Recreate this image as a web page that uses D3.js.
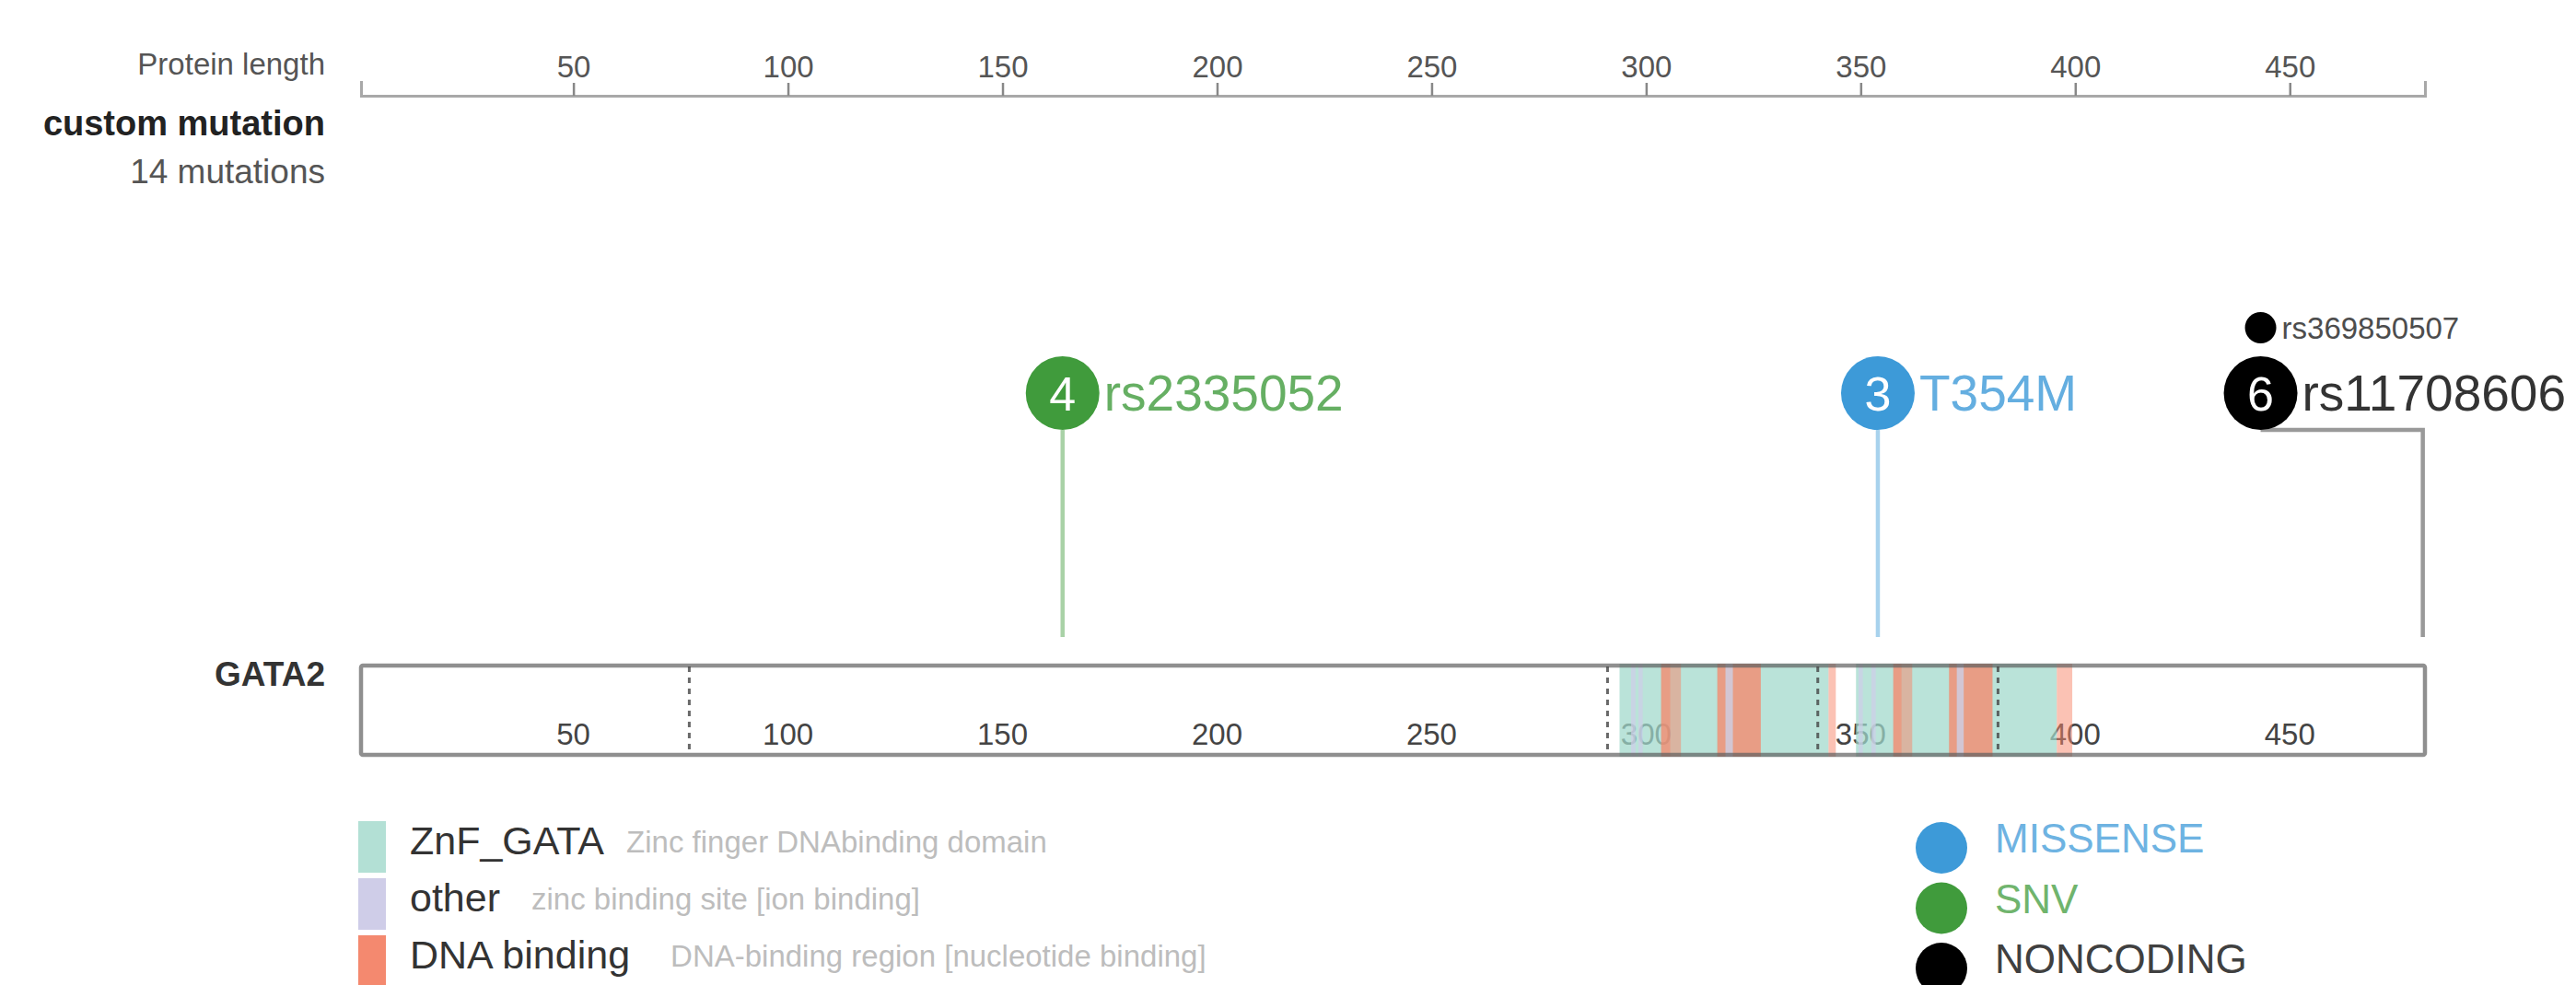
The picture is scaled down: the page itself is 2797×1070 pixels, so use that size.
<!DOCTYPE html>
<html>
<head>
<meta charset="utf-8">
<script src="https://cdn.jsdelivr.net/npm/d3@7"></script>
<style>
  html, body { margin: 0; padding: 0; background: #fff; }
  svg { display: block; font-family: "Liberation Sans", Arial, Helvetica, sans-serif; }
</style>
</head>
<body>
<svg id="chart" width="2797" height="1070"></svg>
<script>
// ---- GATA2 lollipop data ----
const geneName = "GATA2";
const trackName = "custom mutation";
const proteinLength = 481;
const axisTicks = [50, 100, 150, 200, 250, 300, 350, 400, 450];

const mutationLabels = ["rs2335052", "T354M", "rs11708606", "rs369850507"];
const mutationTypes = ["SNV", "MISSENSE", "NONCODING", "NONCODING"];
const mutationPositions = [164, 354, 481, 481];
const mutationCounts = [4, 3, 6, 1];

const mutationClasses = ["MISSENSE", "SNV", "NONCODING"];
const mutationClassColors = ["#3d9ad8", "#409b3c", "#000000"];

const domainNames = ["ZnF_GATA", "other", "DNA binding"];
const domainDescriptions = [
  "Zinc finger DNAbinding domain",
  "zinc binding site [ion binding]",
  "DNA-binding region [nucleotide binding]"
];
const domainColors = ["#b3e0d5", "#cfcde8", "#f4896f"];

// feature intervals on the protein, in residues
const znfGataRegions = [[293.8, 342.5], [348.9, 395.7]];
const zincBindingSites = [[296.5, 297.5], [298.2, 299.2], [318.5, 320.2], [349.5, 350.5], [352.5, 353.5], [372.4, 374]];
const dnaBindingRegions = [
  [303.5, 308.1], [303.5, 305.6],
  [316.6, 326.7], [316.6, 318.5], [320.2, 326.7],
  [342.5, 344.2],
  [357.6, 362], [357.6, 359.5],
  [370.6, 380.7], [370.6, 372.4], [374, 380.7],
  [395.7, 399.3]
];
const exonBoundaries = [77, 291, 340, 382];

// ---- layout ----
const W = 2797, H = 1070;
const labelRight = 353;
const axisY = 104;
const headY = 427;
const headR = 40;
const smallR = 17;
const stemBottom = 692;
const barTop = 721, barBottom = 822;
const rightLimit = 2787;

const svg = d3.select("#chart");
svg.append("rect").attr("width", W).attr("height", H).attr("fill", "#fff");

const x = d3.scaleLinear().domain([0.5, proteinLength + 0.5]).range([392, 2633]);
const typeColor = d3.scaleOrdinal().domain(mutationClasses).range(mutationClassColors);
const lighten = (c, t) => d3.interpolateRgb(c, "#ffffff")(t);

// ---- left-hand titles ----
svg.append("text").attr("x", labelRight).attr("y", 81).attr("text-anchor", "end")
  .attr("font-size", 33).attr("fill", "#555").text("Protein length");
svg.append("text").attr("x", labelRight).attr("y", 147).attr("text-anchor", "end")
  .attr("font-size", 38).attr("font-weight", "bold").attr("fill", "#222").text(trackName);
svg.append("text").attr("x", labelRight).attr("y", 199).attr("text-anchor", "end")
  .attr("font-size", 37).attr("fill", "#555")
  .text(d3.sum(mutationCounts) + " mutations");
svg.append("text").attr("x", labelRight).attr("y", 745).attr("text-anchor", "end")
  .attr("font-size", 37).attr("font-weight", "bold").attr("fill", "#333").text(geneName);

// ---- top protein-length axis ----
const axisG = svg.append("g").attr("transform", `translate(0,${axisY})`)
  .call(d3.axisTop(x).tickValues(axisTicks).tickSizeInner(14).tickSizeOuter(16).tickPadding(6));
axisG.select(".domain").attr("stroke", "#a8a8a8").attr("stroke-width", 3);
axisG.selectAll(".tick line").attr("stroke", "#888").attr("stroke-width", 2.5);
axisG.selectAll(".tick text").attr("font-size", 33).attr("fill", "#555")
  .attr("font-family", "Liberation Sans, Arial, sans-serif");

// ---- protein bar ----
const bar = svg.append("g");
bar.append("rect").attr("x", x(0.5)).attr("y", barTop + 2)
  .attr("width", x(proteinLength + 0.5) - x(0.5)).attr("height", barBottom - barTop - 4)
  .attr("fill", "#fff");

// residue labels sit under the translucent feature blocks
bar.selectAll("text.pos").data(axisTicks).join("text").attr("class", "pos")
  .attr("x", d => x(d)).attr("y", 797).attr("dy", "0.35em")
  .attr("text-anchor", "middle").attr("font-size", 33).attr("fill", "#444")
  .text(d => d);

bar.selectAll("rect.znf").data(znfGataRegions).join("rect").attr("class", "znf")
  .attr("x", d => x(d[0])).attr("width", d => x(d[1]) - x(d[0]))
  .attr("y", barTop).attr("height", barBottom - barTop)
  .attr("fill", "#9fd8ca").attr("fill-opacity", 0.72);

bar.selectAll("rect.dna").data(dnaBindingRegions).join("rect").attr("class", "dna")
  .attr("x", d => x(d[0])).attr("width", d => x(d[1]) - x(d[0]))
  .attr("y", barTop).attr("height", barBottom - barTop)
  .attr("fill", "#f8866a").attr("fill-opacity", 0.5);

bar.selectAll("rect.zinc").data(zincBindingSites).join("rect").attr("class", "zinc")
  .attr("x", d => x(d[0])).attr("width", d => x(d[1]) - x(d[0]))
  .attr("y", barTop).attr("height", barBottom - barTop)
  .attr("fill", domainColors[1]).attr("fill-opacity", 0.7);

bar.append("rect").attr("x", x(0.5)).attr("y", barTop + 2)
  .attr("width", x(proteinLength + 0.5) - x(0.5)).attr("height", barBottom - barTop - 4)
  .attr("fill", "none").attr("stroke", "#5f5f5f").attr("stroke-opacity", 0.7)
  .attr("stroke-width", 4.5).attr("rx", 2);

bar.selectAll("line.exon").data(exonBoundaries).join("line").attr("class", "exon")
  .attr("x1", d => x(d)).attr("x2", d => x(d))
  .attr("y1", barTop + 3).attr("y2", barBottom - 3)
  .attr("stroke", "#444").attr("stroke-opacity", 0.8).attr("stroke-width", 3)
  .attr("stroke-dasharray", "6,6");

// ---- lollipops ----
const muts = mutationLabels.map((label, i) => ({
  label, type: mutationTypes[i], pos: mutationPositions[i], count: mutationCounts[i]
}));
const byPos = d3.groups(muts, d => d.pos);
const needles = svg.append("g");

byPos.forEach(([pos, group]) => {
  group.sort((a, b) => b.count - a.count);
  const main = group[0];
  const col = typeColor(main.type);

  const g = needles.append("g");
  const stem = g.append("path").attr("fill", "none").attr("stroke-width", 4.5);
  const head = g.append("circle").attr("r", headR).attr("cy", headY).attr("fill", col);
  const num = g.append("text").attr("y", headY).attr("dy", "0.36em")
    .attr("text-anchor", "middle").attr("font-size", 52).attr("fill", "#fff").text(main.count);
  const lab = g.append("text").attr("y", headY).attr("dy", "0.34em")
    .attr("font-size", 55).attr("fill", lighten(col, 0.2)).text(main.label);

  const labW = lab.node().getComputedTextLength();
  const xp = Math.min(x(pos), x(proteinLength + 0.5));
  const hx = Math.min(xp, rightLimit - labW - 6 - headR);
  head.attr("cx", hx);
  num.attr("x", hx);
  lab.attr("x", hx + headR + 5);

  if (Math.abs(hx - xp) < 0.5) {
    stem.attr("d", `M${hx},${headY + headR}V${stemBottom}`).attr("stroke", lighten(col, 0.55));
  } else {
    stem.attr("d", `M${hx},${headY + headR}H${xp}V${stemBottom}`).attr("stroke", lighten(col, 0.6));
  }

  // further entries at the same residue stack above the main head
  let top = headY - headR;
  group.slice(1).forEach(m => {
    const c = typeColor(m.type);
    const cy = top - 14 - smallR;
    g.append("circle").attr("cx", hx).attr("cy", cy).attr("r", smallR).attr("fill", c);
    g.append("text").attr("x", hx + smallR + 6).attr("y", cy).attr("dy", "0.36em")
      .attr("font-size", 33).attr("fill", lighten(c, 0.3)).text(m.label);
    top = cy - smallR;
  });
});

// ---- domain legend ----
const domLeg = svg.append("g");
domainNames.forEach((name, i) => {
  const y0 = 892 + i * 62;
  domLeg.append("rect").attr("x", 389).attr("y", y0).attr("width", 30).attr("height", 56)
    .attr("fill", domainColors[i]);
  const t = domLeg.append("text").attr("x", 445).attr("y", y0 + 21).attr("dy", "0.35em")
    .attr("font-size", 43).attr("fill", "#333").text(name);
  const w = t.node().getComputedTextLength();
  domLeg.append("text").attr("x", 445 + w + 24 + i * 10).attr("y", y0 + 22).attr("dy", "0.35em")
    .attr("font-size", 33).attr("fill", "#bdbdbd").text(domainDescriptions[i]);
});

// ---- mutation class legend ----
const typeLeg = svg.append("g");
mutationClasses.forEach((cls, i) => {
  const cy = 921 + i * 65.5;
  const c = typeColor(cls);
  typeLeg.append("circle").attr("cx", 2108).attr("cy", cy).attr("r", 28).attr("fill", c);
  typeLeg.append("text").attr("x", 2166).attr("y", cy - 10).attr("dy", "0.35em")
    .attr("font-size", 44).attr("fill", lighten(c, 0.25)).text(cls);
});
</script>
</body>
</html>
